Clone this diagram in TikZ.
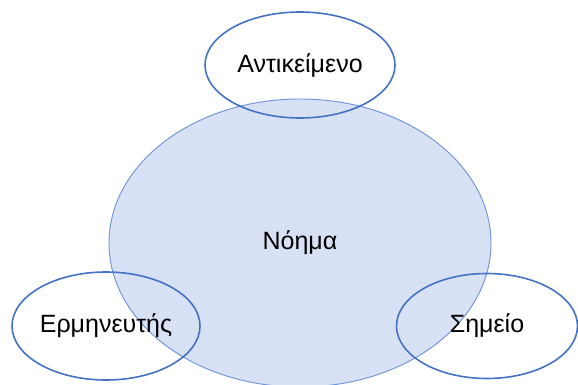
\documentclass[tikz,border=0pt]{standalone}
\usepackage{fontspec}
\setmainfont{Liberation Sans}
\usepackage{xcolor}
\usepackage{tikz}
\usetikzlibrary{positioning,shapes.geometric,patterns}
\definecolor{ringblue}{HTML}{4472C4}
\definecolor{coreblue}{HTML}{7094D8}
\definecolor{corefill}{HTML}{D6E0F5}
\definecolor{coredots}{HTML}{E8EEFA}
\tikzset{
  core/.style={
    ellipse, draw=coreblue, line width=0.7pt,
    preaction={fill=corefill}, pattern=crosshatch dots, pattern color=coredots,
    inner sep=0pt, font=\fontsize{18.75}{22}\selectfont,
  },
  ring/.style={
    ellipse, draw=ringblue, line width=1.2pt,
    inner sep=0pt, font=\fontsize{18.75}{22}\selectfont,
  },
}

\begin{document}
\begin{tikzpicture}[x=0.75pt, y=-0.75pt, on grid]

  \useasboundingbox (0,0) rectangle (578,385);

  \node[core, minimum width=286.5pt, minimum height=216pt] (noema) at (300,243)
    {Νόημα};

  \node[ring, minimum width=142.5pt, minimum height=79.5pt,
        above=133.5pt of noema] (antikeimeno)
    {Αντικείμενο};

  \node[ring, minimum width=141pt, minimum height=81pt,
        below left=62.25pt and 145.5pt of noema] (ermineftis)
    {Ερμηνευτής};

  \node[ring, minimum width=135.75pt, minimum height=78.75pt,
        below right=62.25pt and 140.25pt of noema] (simeio)
    {Σημείο};

\end{tikzpicture}
\end{document}
